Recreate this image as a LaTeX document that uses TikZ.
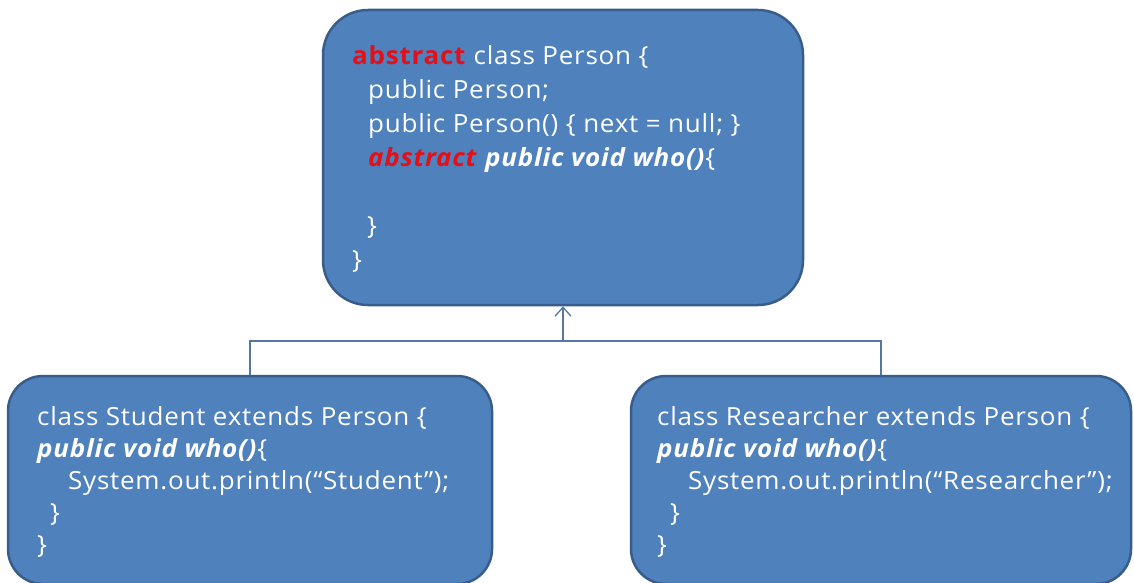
\documentclass[tikz,border=0pt]{standalone}
\usepackage{fontspec}
\setmainfont[FakeStretch=1.04, LetterSpace=3]{Open Sans}
\usetikzlibrary{arrows.meta}
\definecolor{boxfill}{HTML}{4F81BD}
\definecolor{boxline}{HTML}{385D8A}
\definecolor{linkline}{HTML}{5677A3}
\definecolor{kwred}{HTML}{E3101A}
\newcommand{\kw}[1]{\textcolor{kwred}{\textbf{#1}}}
\newcommand{\kwit}[1]{\textcolor{kwred}{\textbf{\textit{#1}}}}
\newcommand{\bi}[1]{\textbf{\textit{#1}}}
\begin{document}
\begin{tikzpicture}[x=1pt,y=-1pt,
  classbox/.style={draw=boxline, line width=2.5pt, fill=boxfill,
    rounded corners=#1, inner sep=0pt},
  code/.style={text=white, align=left, anchor=north west, inner sep=0pt},
  topcode/.style={code, font=\fontsize{25}{34}\selectfont},
  subcode/.style={code, font=\fontsize{25}{32}\selectfont},
  link/.style={draw=linkline, line width=1.3pt}]
\useasboundingbox (0,0) rectangle (1134,583);

% class boxes
\node[classbox=45pt, minimum width=480pt, minimum height=295pt] (person) at (563,157.5) {};
\node[classbox=35pt, minimum width=484pt, minimum height=208pt] (student) at (250,480) {};
\node[classbox=35pt, minimum width=500pt, minimum height=208pt] (researcher) at (881,480) {};

% source code
\node[topcode] (personcode) at (352,45) {%
  \kw{abstract} class Person \{\\
  \hspace*{16pt}public Person;\\
  \hspace*{16pt}public Person() \{ next = null; \}\\
  \hspace*{16pt}\kwit{abstract} \bi{public void who()}\{\\
  \mbox{}\\
  \hspace*{15pt}\}\\
  \}};
\node[subcode] (studentcode) at (37,406) {%
  class Student extends Person \{\\
  \bi{public void who()}\{\\
  \hspace*{31pt}System.out.println(“Student”);\\
  \hspace*{13pt}\}\\
  \}};
\node[subcode] (researchercode) at (657,406) {%
  class Researcher extends Person \{\\
  \bi{public void who()}\{\\
  \hspace*{31pt}System.out.println(“Researcher”);\\
  \hspace*{13pt}\}\\
  \}};

% inheritance connectors
\coordinate (bus) at (person.south |- 0,341);
\draw[link] (student.north) |- (bus) -| (researcher.north);
\draw[link, -{Straight Barb[length=9pt,width=16pt,line width=1.3pt]}] (bus) -- (person.south);
\end{tikzpicture}
\end{document}
